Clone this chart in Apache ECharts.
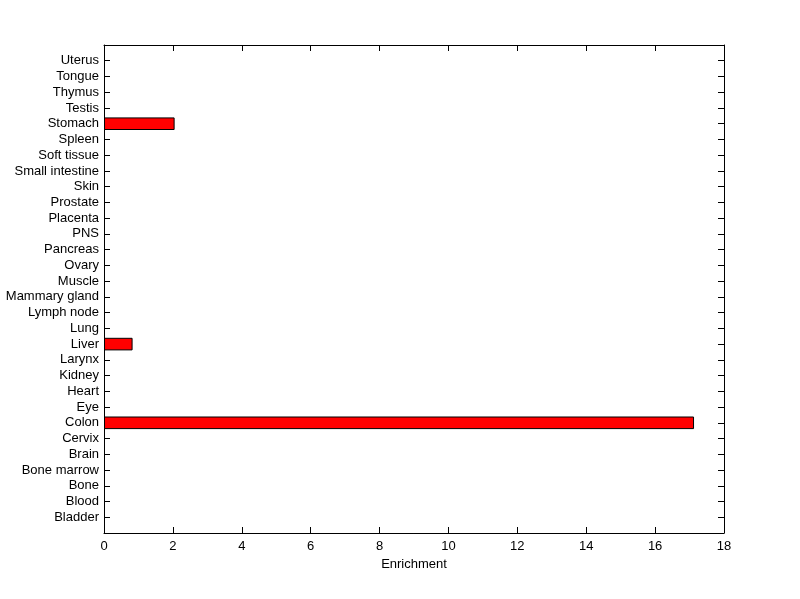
<!DOCTYPE html>
<html>
<head>
<meta charset="utf-8">
<script src="https://cdn.jsdelivr.net/npm/echarts@6/dist/echarts.min.js"></script>
<style>html,body{margin:0;padding:0;background:#fff;}#c{width:800px;height:599px;}</style>
</head>
<body>
<div id="c"></div>
<script>
// Categories listed bottom to top
var categories = ['Bladder','Blood','Bone','Bone marrow','Brain','Cervix','Colon','Eye','Heart','Kidney','Larynx','Liver','Lung','Lymph node','Mammary gland','Muscle','Ovary','Pancreas','PNS','Placenta','Prostate','Skin','Small intestine','Soft tissue','Spleen','Stomach','Testis','Thymus','Tongue','Uterus'];
var enrichment = [0,0,0,0,0,0,17.13,0,0,0,0,0.83,0,0,0,0,0,0,0,0,0,0,0,0,0,2.05,0,0,0,0];
var xTicks = [0,2,4,6,8,10,12,14,16,18];
var xTitle = 'Enrichment';

var yData = [''].concat(categories).concat(['']);
var barData = [null].concat(enrichment.map(function(v){return v>0?v:null;})).concat([null]);
var font = 'Liberation Sans, Arial, sans-serif';
var chart = echarts.init(document.getElementById('c'));
var commonLine = {show:true, onZero:false, lineStyle:{color:'#000', width:1}};
chart.setOption({
  animation:false,
  backgroundColor:'#fff',
  grid:{left:104, right:76, top:45, bottom:66, containLabel:false},
  xAxis:[{
    type:'value', position:'bottom', min:xTicks[0], max:xTicks[xTicks.length-1], interval:2,
    axisLine:commonLine,
    axisTick:{show:true, inside:true, length:6, lineStyle:{color:'#000'}},
    axisLabel:{color:'#000', fontSize:13, fontFamily:font, margin:7},
    splitLine:{show:false},
    name:xTitle, nameLocation:'middle', nameGap:23,
    nameTextStyle:{color:'#000', fontSize:13, fontFamily:font}
  },{
    type:'value', position:'top', min:xTicks[0], max:xTicks[xTicks.length-1], interval:2,
    axisLine:commonLine,
    axisTick:{show:true, inside:true, length:6, lineStyle:{color:'#000'}},
    axisLabel:{show:false}, splitLine:{show:false}
  }],
  yAxis:[{
    type:'category', position:'left', data:yData, boundaryGap:false,
    axisLine:commonLine,
    axisTick:{show:true, inside:true, length:6, lineStyle:{color:'#000'}},
    axisLabel:{color:'#000', fontSize:13, fontFamily:font, margin:5, interval:0},
    splitLine:{show:false}
  },{
    type:'category', position:'right', data:yData, boundaryGap:false,
    axisLine:commonLine,
    axisTick:{show:true, inside:true, length:6, lineStyle:{color:'#000'}},
    axisLabel:{show:false}, splitLine:{show:false}
  }],
  series:[{
    type:'bar', xAxisIndex:0, yAxisIndex:0, data:barData, barWidth:'80%',
    itemStyle:{color:'#ff0000', borderColor:'#000', borderWidth:1}
  }]
});
</script>
</body>
</html>
